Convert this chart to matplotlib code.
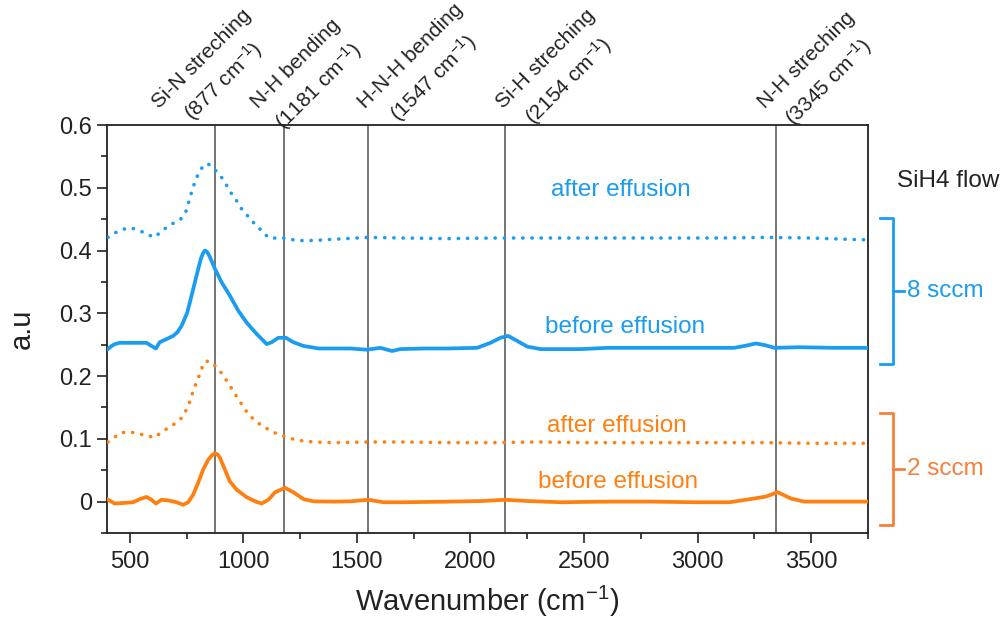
import matplotlib
matplotlib.use("Agg")
import matplotlib.pyplot as plt
from matplotlib.ticker import MultipleLocator
import matplotlib.transforms as mtransforms

plt.rcParams["font.family"] = ["Liberation Sans", "DejaVu Sans"]
plt.rcParams["mathtext.fontset"] = "custom"
plt.rcParams["mathtext.rm"] = "Liberation Sans"
plt.rcParams["mathtext.default"] = "regular"

# ---- FTIR spectra (wavenumber in cm^-1, absorbance in a.u.) ----
wn_8_after = [404, 434, 471, 505, 541, 578, 606, 632, 662, 694, 724, 746, 757, 768, 779, 791,
              805, 828, 845, 860, 887, 912, 931, 949, 971, 993, 1015, 1041, 1069, 1093, 1121,
              1157, 1194, 1235, 1309, 1400, 1550, 1700, 1900, 2100, 2300, 2500, 2700, 2900,
              3100, 3300, 3500, 3650, 3750]
ab_8_after = [0.421, 0.428, 0.434, 0.436, 0.432, 0.426, 0.421, 0.428, 0.437, 0.444, 0.450, 0.461,
              0.474, 0.488, 0.501, 0.513, 0.525, 0.537, 0.538, 0.534, 0.524, 0.513, 0.501, 0.490,
              0.479, 0.466, 0.457, 0.446, 0.436, 0.426, 0.419, 0.421, 0.419, 0.416, 0.416, 0.418,
              0.421, 0.420, 0.419, 0.420, 0.420, 0.420, 0.420, 0.420, 0.420, 0.421, 0.420, 0.418,
              0.417]

wn_8_before = [404, 420, 434, 456, 520, 574, 596, 615, 632, 662, 691, 710, 728, 753, 772, 794,
               813, 823, 831, 840, 850, 875, 905, 941, 978, 1015, 1059, 1103, 1125, 1154, 1188,
               1220, 1265, 1331, 1400, 1471, 1544, 1603, 1655, 1691, 1800, 1900, 2029, 2088,
               2132, 2166, 2206, 2250, 2309, 2485, 2603, 2800, 3000, 3161, 3220, 3257, 3300,
               3338, 3450, 3600, 3750]
ab_8_before = [0.243, 0.248, 0.251, 0.253, 0.253, 0.253, 0.248, 0.244, 0.254, 0.259, 0.264, 0.270,
               0.280, 0.301, 0.328, 0.360, 0.387, 0.396, 0.400, 0.398, 0.392, 0.371, 0.349, 0.328,
               0.304, 0.285, 0.267, 0.251, 0.254, 0.261, 0.261, 0.254, 0.248, 0.244, 0.244, 0.244,
               0.242, 0.245, 0.240, 0.243, 0.244, 0.244, 0.245, 0.253, 0.261, 0.264, 0.256, 0.247,
               0.243, 0.243, 0.245, 0.245, 0.245, 0.245, 0.249, 0.252, 0.249, 0.245, 0.246, 0.245,
               0.245]

wn_2_after = [404, 434, 464, 503, 541, 578, 610, 640, 672, 706, 733, 750, 765, 777, 790, 805,
              827, 845, 860, 890, 912, 931, 953, 973, 993, 1015, 1037, 1066, 1096, 1130, 1162,
              1198, 1235, 1309, 1400, 1550, 1700, 1900, 2100, 2300, 2500, 2700, 2900, 3100,
              3300, 3500, 3750]
ab_2_after = [0.095, 0.103, 0.110, 0.111, 0.108, 0.105, 0.102, 0.111, 0.118, 0.126, 0.135, 0.147,
              0.160, 0.174, 0.187, 0.200, 0.222, 0.224, 0.222, 0.211, 0.201, 0.190, 0.178, 0.166,
              0.155, 0.143, 0.134, 0.125, 0.118, 0.111, 0.106, 0.102, 0.098, 0.095, 0.094, 0.095,
              0.095, 0.094, 0.094, 0.095, 0.094, 0.094, 0.094, 0.094, 0.094, 0.093, 0.093]

wn_2_before = [404, 434, 478, 515, 544, 574, 596, 615, 640, 669, 706, 735, 757, 779, 801, 823,
               846, 862, 875, 887, 897, 919, 941, 971, 1015, 1052, 1081, 1110, 1140, 1184, 1220,
               1265, 1309, 1400, 1471, 1551, 1618, 1700, 1900, 2050, 2154, 2250, 2400, 2573,
               2800, 3000, 3139, 3249, 3300, 3353, 3411, 3470, 3600, 3750]
ab_2_before = [0.003, -0.003, -0.002, -0.001, 0.004, 0.0075, 0.003, -0.003, 0.003, 0.002, -0.001,
               -0.005, -0.001, 0.011, 0.030, 0.051, 0.067, 0.074, 0.077, 0.075, 0.070, 0.051,
               0.032, 0.019, 0.007, 0.0005, -0.003, 0.003, 0.015, 0.022, 0.015, 0.004, 0.0005,
               0.0, 0.0005, 0.003, -0.001, -0.001, 0.0, 0.001, 0.003, 0.001, -0.001, 0.0, 0.0,
               -0.001, -0.001, 0.005, 0.008, 0.015, 0.005, 0.0, 0.0, 0.0]

# ---- vibrational band assignments ----
band_wn = [877, 1181, 1547, 2154, 3345]
band_names = ["Si-N streching", "N-H bending", "H-N-H bending", "Si-H streching", "N-H streching"]

# ---- text / layout ----
curve_labels = ["after effusion", "before effusion", "after effusion", "before effusion"]
curve_label_pos = [(2663, 0.496), (2681, 0.278), (2645, 0.120), (2650, 0.032)]
band_label_x = [707, 1144, 1616, 2224, 3375]
flow_labels = ["8 sccm", "2 sccm"]
flow_span = [(0.219, 0.452), (-0.037, 0.141)]

BLUE = "#1a9cf0"
ORANGE = "#ff8010"
ORANGE_BR = "#f5813a"

fig = plt.figure(figsize=(10.07, 6.32), dpi=100)
ax = fig.add_axes([0.1063, 0.1566, 0.7556, 0.6456])

for x in band_wn:
    ax.axvline(x, color="#6a6a6a", lw=1.3, zorder=1)

dot = dict(lw=2.6, linestyle=(0, (0.05, 2.5)), dash_capstyle="round")
ax.plot(wn_8_after, ab_8_after, color=BLUE, zorder=3, **dot)
ax.plot(wn_8_before, ab_8_before, color=BLUE, lw=2.7, zorder=3, solid_joinstyle="round")
ax.plot(wn_2_after, ab_2_after, color=ORANGE, zorder=3, **dot)
ax.plot(wn_2_before, ab_2_before, color=ORANGE, lw=2.7, zorder=3, solid_joinstyle="round")

for txt, (x, y), c in zip(curve_labels, curve_label_pos, [BLUE, BLUE, ORANGE, ORANGE]):
    ax.text(x, y, txt, color=c, fontsize=17.5, ha="center", va="center")

ax.set_xlim(400, 3750)
ax.set_ylim(-0.05, 0.6)
ax.xaxis.set_major_locator(MultipleLocator(500))
ax.xaxis.set_minor_locator(MultipleLocator(250))
ax.yaxis.set_major_locator(MultipleLocator(0.1))
ax.yaxis.set_minor_locator(MultipleLocator(0.05))
ax.yaxis.set_major_formatter(plt.FuncFormatter(lambda v, p: "0" if abs(v) < 1e-9 else f"{v:.1f}"))
ax.tick_params(which="major", direction="out", length=7, width=1.2, labelsize=17,
               colors="#222222", pad=4)
ax.tick_params(which="minor", direction="out", length=4.5, width=1.2, colors="#222222")
ax.tick_params(top=False, right=False, which="both")
ax.tick_params(axis="x", which="major", pad=6)
for s in ax.spines.values():
    s.set_linewidth(1.3)
    s.set_color("#222222")

ax.set_xlabel("Wavenumber (cm$^{-1}$)", fontsize=21, color="#222222", labelpad=8)
ax.set_ylabel("a.u", fontsize=21, color="#222222", labelpad=17)

for name, wn, lx in zip(band_names, band_wn, band_label_x):
    ax.annotate(f"{name}\n({wn} cm$^{{-1}}$)", xy=(lx, 1.0), xycoords=("data", "axes fraction"),
                xytext=(7, -8.5), textcoords="offset points", rotation=45,
                rotation_mode="anchor", ha="left", va="bottom", multialignment="center",
                fontsize=15, linespacing=1.45, color="#222222", annotation_clip=False)

# flow brackets on the right
tr = mtransforms.blended_transform_factory(ax.transAxes, ax.transData)
for (y0, y1), txt, c in zip(flow_span, flow_labels, [BLUE, ORANGE_BR]):
    xv, xh, xm = 1.033, 1.016, 1.047
    ym = 0.5 * (y0 + y1)
    ax.plot([xh, xv, xv, xh], [y1, y1, y0, y0], color=c, lw=2.0, transform=tr,
            clip_on=False, solid_joinstyle="round")
    ax.plot([xv, xm], [ym, ym], color=c, lw=2.0, transform=tr, clip_on=False)
    ax.text(xm + 0.004, ym, txt, color=c, fontsize=17.5, ha="left", va="center",
            transform=tr, clip_on=False)

ax.text(1.038, 0.511, "SiH4 flow", color="#222222", fontsize=17.5, ha="left", va="center",
        transform=tr, clip_on=False)

fig.savefig("out.png", dpi=100)
